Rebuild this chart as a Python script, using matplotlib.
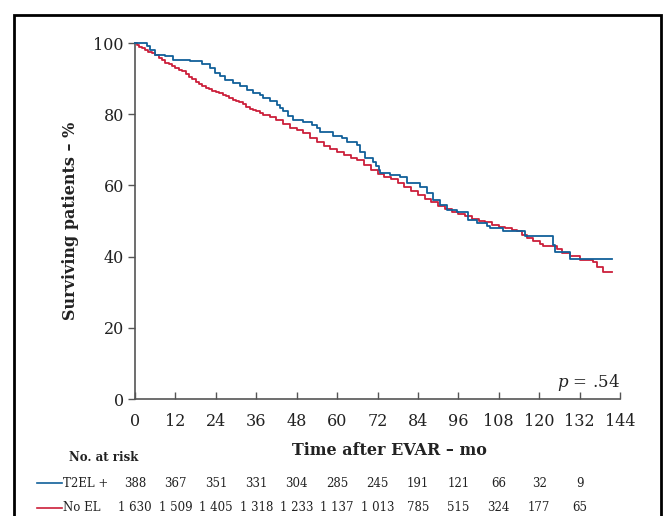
import matplotlib
matplotlib.use("Agg")
import matplotlib.pyplot as plt
from matplotlib.patches import Rectangle
from matplotlib.lines import Line2D
import matplotlib.transforms as mtransforms

plt.rcParams['font.family'] = ['DejaVu Serif']
plt.rcParams['mathtext.fontset'] = 'dejavuserif'

# ---- data ----
t2el_time = [0, 3.5, 4.5, 5.9, 9, 11.4, 16.3, 19.8, 22.3, 23.8, 25.2, 26.7, 29.2, 31.2,
             33.2, 35, 37.1, 38.1, 40, 42.1, 43, 44, 45.5, 47, 50, 52.5, 54, 54.9, 58.9,
             61.4, 62.9, 65.8, 66.8, 68.3, 70.8, 71.5, 72.3, 72.7, 75.7, 78.7, 80.7, 84.6,
             86.6, 88.6, 90.6, 92.5, 95.5, 99, 101.4, 104.4, 105.4, 109.4, 115.8, 124.2,
             124.7, 129.2, 141.5]
t2el_surv = [100, 99.2, 98.0, 96.7, 96.4, 95.3, 94.9, 94.1, 93.0, 91.6, 90.6, 89.7, 88.9, 87.8,
             86.9, 86.0, 85.5, 84.5, 83.6, 82.7, 81.8, 80.8, 79.5, 78.5, 77.8, 77.1, 76.0, 74.9, 74.0,
             73.3, 72.1, 71.4, 69.5, 67.7, 66.7, 65.5, 64.4, 63.5, 63.0, 62.3, 60.8, 59.5,
             58.0, 56.0, 54.6, 53.1, 52.4, 50.3, 49.4, 48.5, 48.0, 47.1, 45.9, 43.3,
             41.4, 39.3, 39.3]

noel_time = [0, 0.5, 1.2, 2, 3, 4, 5, 6, 7, 8, 9, 10, 11, 12, 13, 14, 15, 16, 17, 18, 19,
             20, 21, 22, 23, 24, 25, 26, 27, 28, 29, 30, 31, 32, 33, 34, 35, 36, 37, 38,
             40, 42, 44, 46, 48, 50, 52, 54, 56, 58, 60, 62, 64, 66, 68, 70, 72, 74, 76, 78,
             80, 82, 84, 86, 88, 90, 92, 94, 96, 98, 100, 102, 104, 106, 108, 110, 112,
             113.3, 114.8, 116.3, 118.3, 120.3, 121.2, 125.2, 126.7, 129.2, 132.1, 136.1,
             137.1, 139.1, 141.5]
noel_surv = [100, 99.4, 98.9, 98.5, 98.0, 97.6, 97.1, 96.5, 95.8, 95.1, 94.5, 94.0, 93.5,
             93.0, 92.5, 92.0, 91.2, 90.5, 89.8, 89.1, 88.5, 88.0, 87.5, 87.0, 86.6, 86.3,
             85.9, 85.5, 85.0, 84.5, 84.1, 83.8, 83.3, 82.8, 82.1, 81.5, 81.1, 80.8, 80.3,
             79.9, 79.2, 78.3, 77.3, 76.1, 75.5, 74.7, 73.3,
             72.1, 71.0, 70.2, 69.5, 68.6, 67.8, 67.0, 65.8, 64.4, 63.2, 62.5, 61.8, 60.6,
             59.6, 58.4, 57.4, 56.3, 55.4, 54.3, 53.4, 52.6, 52.0, 51.4, 50.7, 50.1, 49.6,
             49.0, 48.4, 48.0, 47.5, 47.1, 46.1, 45.2, 44.3, 43.6, 43.0, 42.1, 41.1, 40.2,
             39.1, 38.4, 37.2, 35.8, 35.8]

risk_times = [0, 12, 24, 36, 48, 60, 72, 84, 96, 108, 120, 132]
risk_t2el = ["388", "367", "351", "331", "304", "285", "245", "191", "121", "66", "32", "9"]
risk_noel = ["1 630", "1 509", "1 405", "1 318", "1 233", "1 137", "1 013", "785", "515",
             "324", "177", "65"]
x_ticks = list(range(0, 145, 12))
y_ticks = [0, 20, 40, 60, 80, 100]

BLUE = "#11609a"
RED = "#cc1f3a"

W, H = 663, 516
fig = plt.figure(figsize=(W / 100, H / 100), dpi=100)
ax = fig.add_axes([135 / W, 1 - 399 / H, 485 / W, 356 / H])

ax.step(t2el_time, t2el_surv, where='post', color=BLUE, lw=1.3, clip_on=False, zorder=3)
ax.step(noel_time, noel_surv, where='post', color=RED, lw=1.3, clip_on=False, zorder=2)

ax.set_xlim(0, 144)
ax.set_ylim(0, 100)
ax.set_xticks(x_ticks)
ax.set_yticks(y_ticks)
for s in ['top', 'right']:
    ax.spines[s].set_visible(False)
for s in ['left', 'bottom']:
    ax.spines[s].set_color('#555555')
    ax.spines[s].set_linewidth(1.2)
ax.tick_params(axis='y', direction='out', length=5, width=1, color='#555555',
               labelsize=11.5, pad=3, labelcolor='#222222')
ax.tick_params(axis='x', direction='in', length=5, width=1, color='#555555',
               labelsize=11.5, pad=10, labelcolor='#222222')

ax.set_ylabel("Surviving patients – %", fontsize=11.5, fontweight='bold', color='#222222')
ax.yaxis.set_label_coords(-0.115, 0.5)
ax.set_xlabel("Time after EVAR – mo", fontsize=11.5, fontweight='bold', color='#222222')
ax.xaxis.set_label_coords(0.524, -0.122)

ax.text(144, 4.5, r"$\it{p}$ = .54", ha='right', va='center', fontsize=12, color='#222222')

# number at risk table
trans = mtransforms.blended_transform_factory(ax.transData, ax.transAxes)
ax.text(-0.136, -0.163, "No. at risk", transform=ax.transAxes, fontsize=8.5,
        fontweight='bold', ha='left', va='center', color='#222222')
rows = [(-0.236, risk_t2el, BLUE, "T2EL +"), (-0.305, risk_noel, RED, "No EL")]
for yy, vals, col, lab in rows:
    for t, v in zip(risk_times, vals):
        ax.text(t, yy, v, transform=trans, fontsize=8.5, ha='center', va='center',
                color='#222222')
    ax.add_line(Line2D([-0.203, -0.151], [yy, yy], transform=ax.transAxes, color=col,
                       lw=1.2, clip_on=False))
    ax.text(-0.149, yy, lab, transform=ax.transAxes, fontsize=8.5, ha='left', va='center',
            color='#222222')

# outer frame
fig.patches.append(Rectangle((14 / W, -0.05), (661 - 14) / W, 1 - 15 / H + 0.05,
                             transform=fig.transFigure, fill=False, edgecolor='black',
                             lw=2, zorder=10))

fig.savefig("out.png", dpi=100)
